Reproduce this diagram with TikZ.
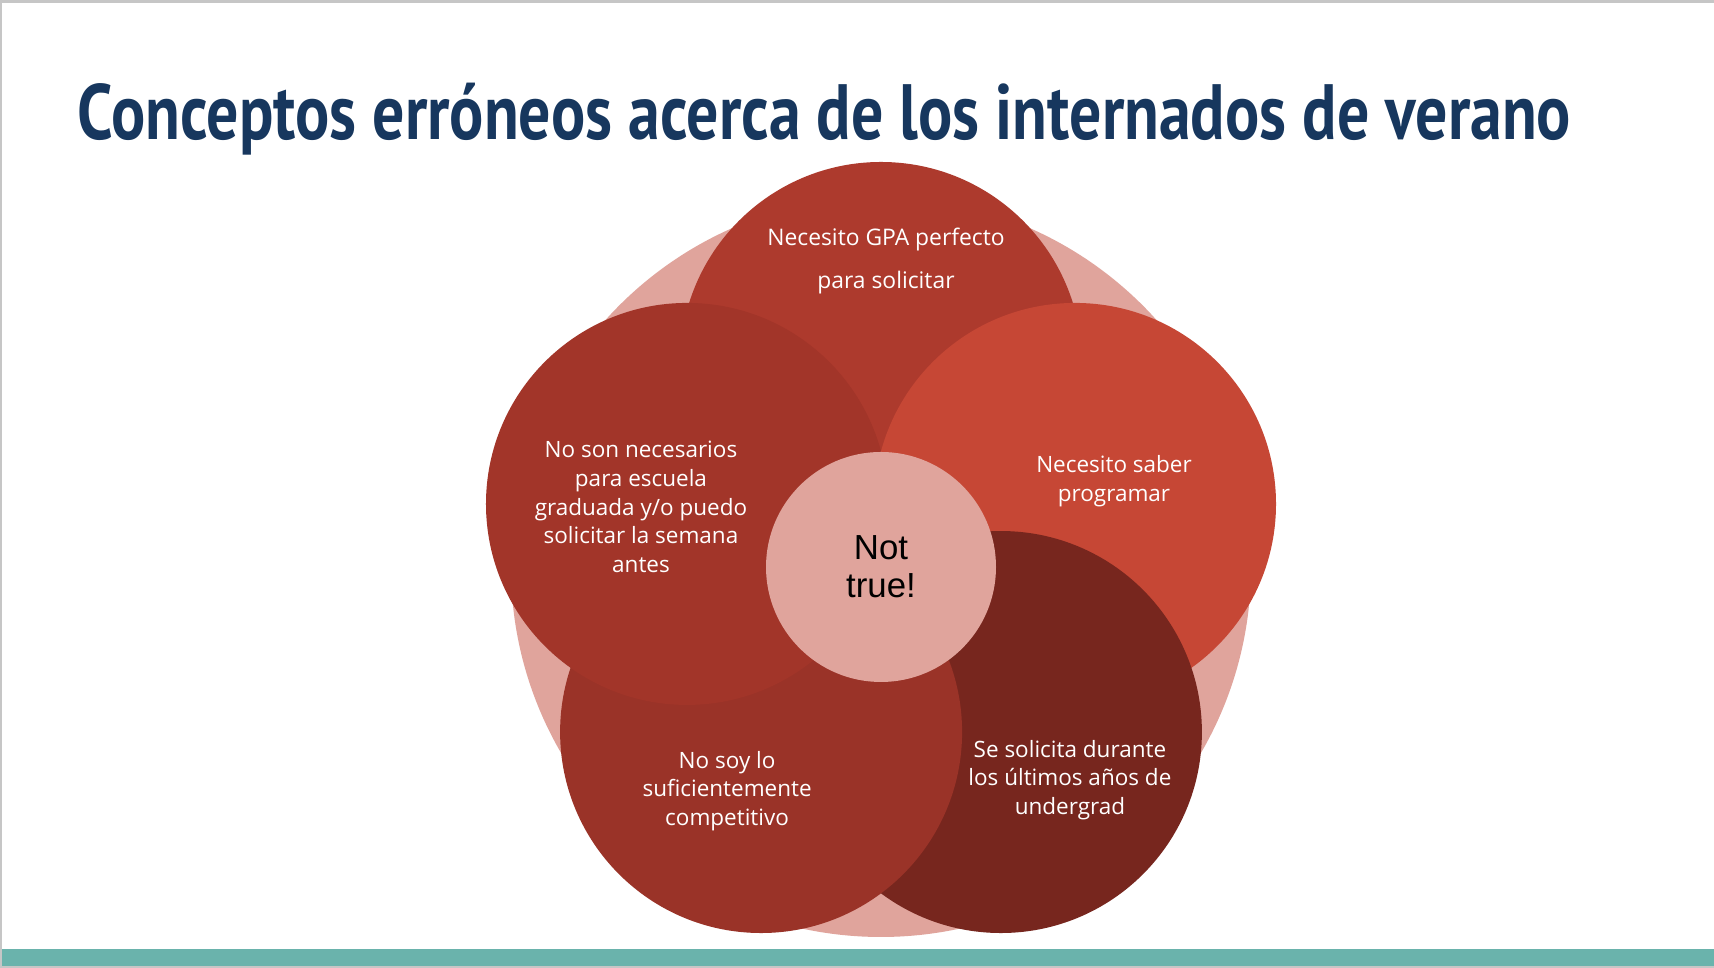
\documentclass[tikz,border=0pt]{standalone}
\usepackage{fontspec}
\setmainfont{Open Sans}
\newfontfamily\titlefont[FakeStretch=0.814]{PT Sans}
\newfontfamily\armfont{Liberation Sans}
\usetikzlibrary{positioning}
\definecolor{cTitle}{HTML}{17375E}
\definecolor{cPink}{HTML}{E0A49C}
\definecolor{cTop}{HTML}{AD3A2D}
\definecolor{cLft}{HTML}{A23529}
\definecolor{cRgt}{HTML}{C64735}
\definecolor{cBlt}{HTML}{9A3328}
\definecolor{cBrt}{HTML}{77261E}
\definecolor{cTeal}{HTML}{6AB3AC}
\definecolor{cEdge}{HTML}{C6C6C6}
\tikzset{
  petal/.style={circle,minimum size=4.02cm,inner sep=0pt},
  label/.style={text=white,align=center,font=\fontsize{6.4}{8.2}\selectfont},
}

\begin{document}
\begin{tikzpicture}
  \useasboundingbox (0,0) rectangle (17.14,9.68);
  \fill[white] (0,0) rectangle (17.14,9.68);
  \fill[cEdge] (0,9.65) rectangle (17.14,9.68);
  \fill[cEdge] (0,0) rectangle (0.02,9.68);
  \fill[cEdge] (0,0) rectangle (17.14,0.02);
  \fill[cTeal] (0.02,0.02) rectangle (17.14,0.19);
  \node[anchor=base west,inner sep=0pt,text=cTitle,
        font=\titlefont\bfseries\fontsize{22.3}{26}\selectfont] (title) at (0.77,8.28)
        {Conceptos erróneos acerca de los internados de verano};
  \coordinate (ctr) at (8.81,4.01);
  \node[circle,fill=cPink,minimum size=7.40cm,inner sep=0pt] (ring) at (ctr) {};
  \foreach \n/\a/\c in {top/90/cTop,rgt/18/cRgt,brt/-54/cBrt,blt/234/cBlt,lft/162/cLft}
    \node[petal,fill=\c] (\n) at ([shift={(\a:2.04)}]ctr) {};
  \node[circle,fill=cPink,minimum size=2.30cm,inner sep=0pt,
        font=\armfont\fontsize{9.9}{10.9}\selectfont,align=center] (core) at (ctr) {Not\\true!};
  \node[label,font=\fontsize{6.5}{12.5}\selectfont] (tTop) at ([shift={(0.05,1.02)}]top)
    {Necesito GPA perfecto\\para solicitar};
  \node[label] (tLft) at ([shift={(-0.46,-0.03)}]lft)
    {No son necesarios\\para escuela\\graduada y/o puedo\\solicitar la semana\\antes};
  \node[label] (tRgt) at ([shift={(0.39,0.23)}]rgt) {Necesito saber\\programar};
  \node[label] (tBlt) at ([shift={(-0.34,-0.59)}]blt)
    {No soy lo\\suficientemente\\competitivo};
  \node[label] (tBrt) at ([shift={(0.69,-0.48)}]brt)
    {Se solicita durante\\los últimos años de\\undergrad};
\end{tikzpicture}
\end{document}
